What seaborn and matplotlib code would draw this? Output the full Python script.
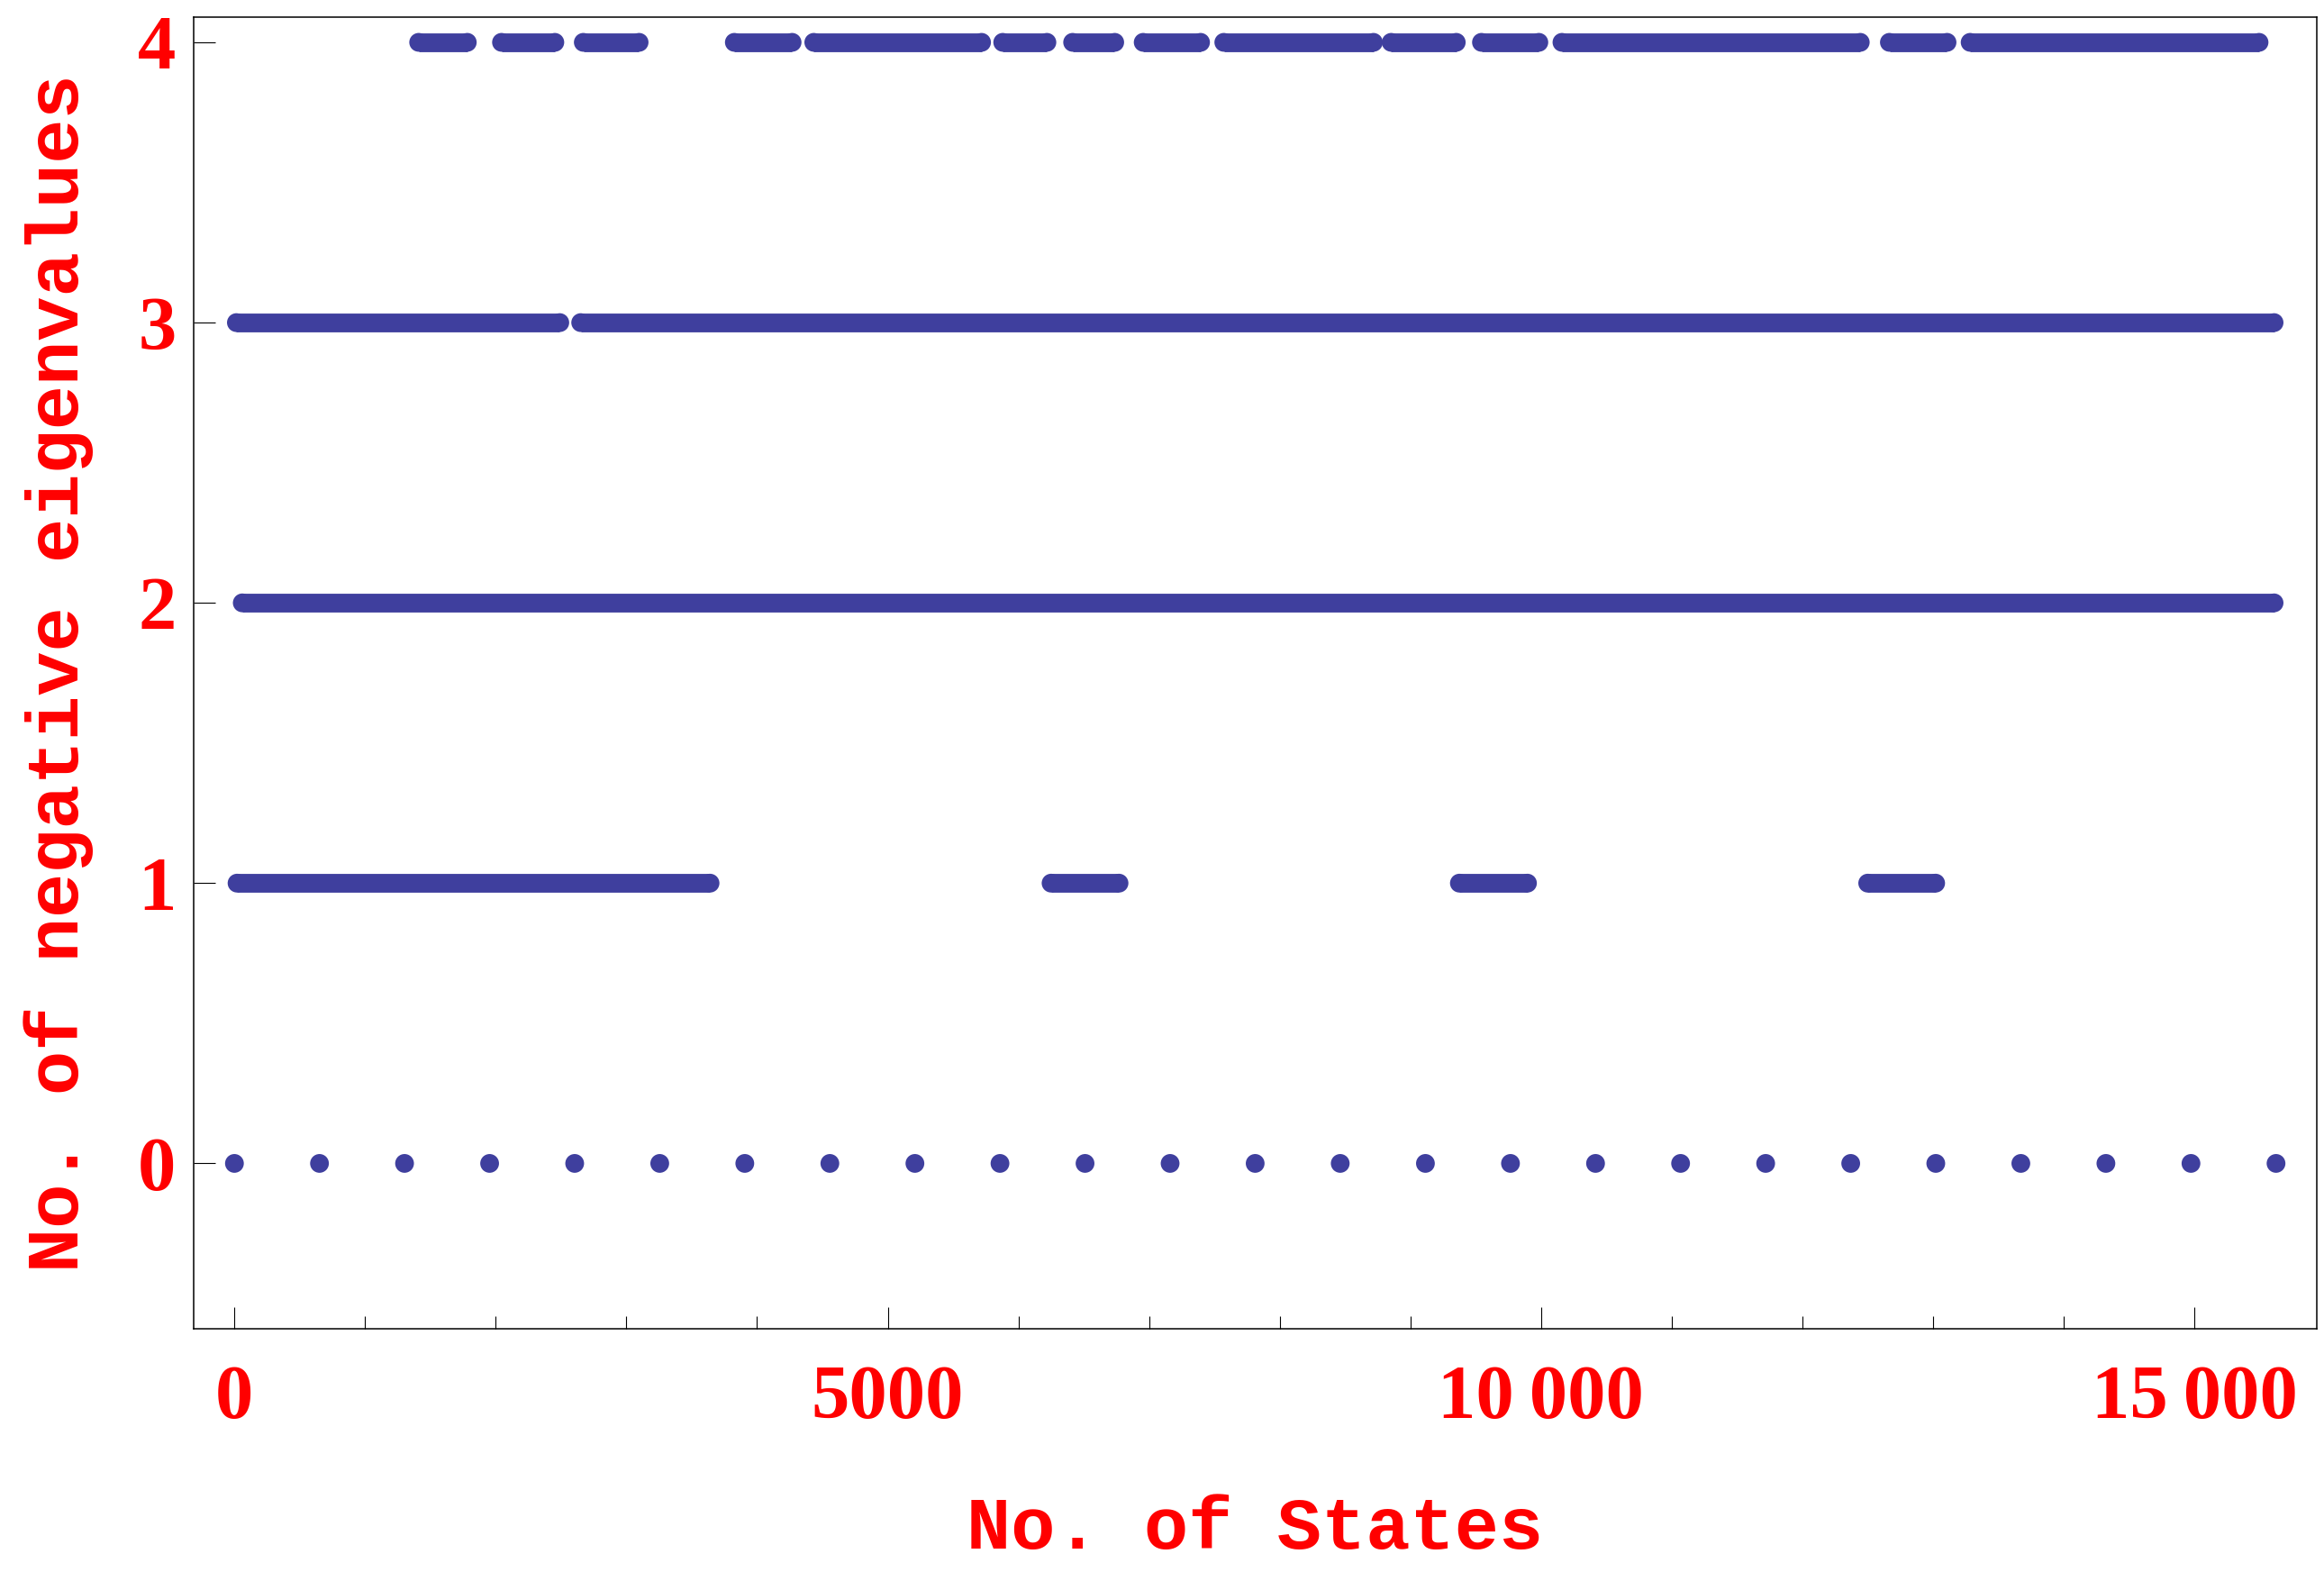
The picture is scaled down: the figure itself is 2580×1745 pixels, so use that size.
import numpy as np
import pandas as pd
import seaborn as sns
import matplotlib.pyplot as plt
from matplotlib.ticker import FixedLocator, MultipleLocator

sns.set_theme(style='white')

# %% data

# states with no negative eigenvalue (isolated dots)
zero_states = [0, 651, 1302, 1953, 2604, 3255, 3906, 4557, 5208, 5859, 6510,
               7161, 7812, 8463, 9115, 9766, 10417, 11068, 11719, 12370,
               13021, 13672, 14323, 14974, 15625]

# runs of consecutive states (first, last) for each count of negative eigenvalues
runs_1 = [(20, 3640), (6250, 6770), (9375, 9896), (12500, 13020)]
runs_2 = [(60, 15610)]
runs_3 = [(15, 2490), (2650, 15610)]
runs_4 = [(1410, 1782), (2044, 2452), (2670, 3097), (3826, 4268),
          (4434, 5718), (5880, 6218), (6415, 6737), (6955, 7394),
          (7572, 8717), (8853, 9351), (9544, 9983), (10160, 12443),
          (12666, 13107), (13284, 15495)]

x_ticks = [0, 5000, 10000, 15000]
x_tick_labels = ['0', '5000', '10\u2009000', '15\u2009000']
y_ticks = [0, 1, 2, 3, 4]
y_tick_labels = ['0', '1', '2', '3', '4']

# %% build tables

runs = pd.DataFrame(
    [(1, a, b) for a, b in runs_1] + [(2, a, b) for a, b in runs_2] +
    [(3, a, b) for a, b in runs_3] + [(4, a, b) for a, b in runs_4],
    columns=['count', 'first', 'last'])

dots = pd.concat([
    pd.DataFrame({'state': zero_states, 'count': 0}),
    pd.DataFrame({'state': runs['first'], 'count': runs['count']}),
    pd.DataFrame({'state': runs['last'], 'count': runs['count']}),
], ignore_index=True)

# %% plot

dot_color = '#3f3f9e'
marker_pt = 15

fig = plt.figure(figsize=(25.8, 17.45), dpi=100)
ax = fig.add_axes([215 / 2580, 1 - 1475 / 1745, 2357 / 2580, 1456 / 1745])

ax.hlines(runs['count'], runs['first'], runs['last'], color=dot_color,
          linewidth=marker_pt, capstyle='butt')
sns.scatterplot(data=dots, x='state', y='count', s=marker_pt ** 2,
                color=dot_color, edgecolor='none', linewidth=0,
                legend=False, ax=ax)

ax.set_xlim(-312, 15937)
ax.set_ylim(-0.59, 4.09)

serif = ['Liberation Serif', 'DejaVu Serif']
mono = ['Liberation Mono', 'DejaVu Sans Mono']

ax.set_xticks(x_ticks, labels=x_tick_labels, fontsize=61, fontweight='bold',
              family=serif, color='red')
ax.set_yticks(y_ticks, labels=y_tick_labels, fontsize=61, fontweight='bold',
              family=serif, color='red')
ax.xaxis.set_minor_locator(MultipleLocator(1000))

ax.tick_params(axis='x', which='major', direction='in', length=17, width=0.8,
               color='black', pad=29, top=False, bottom=True)
ax.tick_params(axis='x', which='minor', direction='in', length=10, width=0.8,
               color='black', top=False, bottom=True)
ax.tick_params(axis='y', which='major', direction='in', length=17, width=0.8,
               color='black', pad=14, left=True, right=False)

for side in ['left', 'right', 'top', 'bottom']:
    ax.spines[side].set_color('black')
    ax.spines[side].set_linewidth(1.1)
    ax.spines[side].set_visible(True)

ax.set_xlabel('No. of States', fontsize=59, fontweight='bold', family=mono,
              color='red', va='baseline')
ax.xaxis.set_label_coords(0.5, -0.1676)
ax.set_ylabel('No. of negative eigenvalues', fontsize=59, fontweight='bold',
              family=mono, color='red', va='baseline')
ax.yaxis.set_label_coords(-0.0543, 0.5)

ax.grid(False)
fig.savefig('out.png', dpi=100, facecolor='white')
